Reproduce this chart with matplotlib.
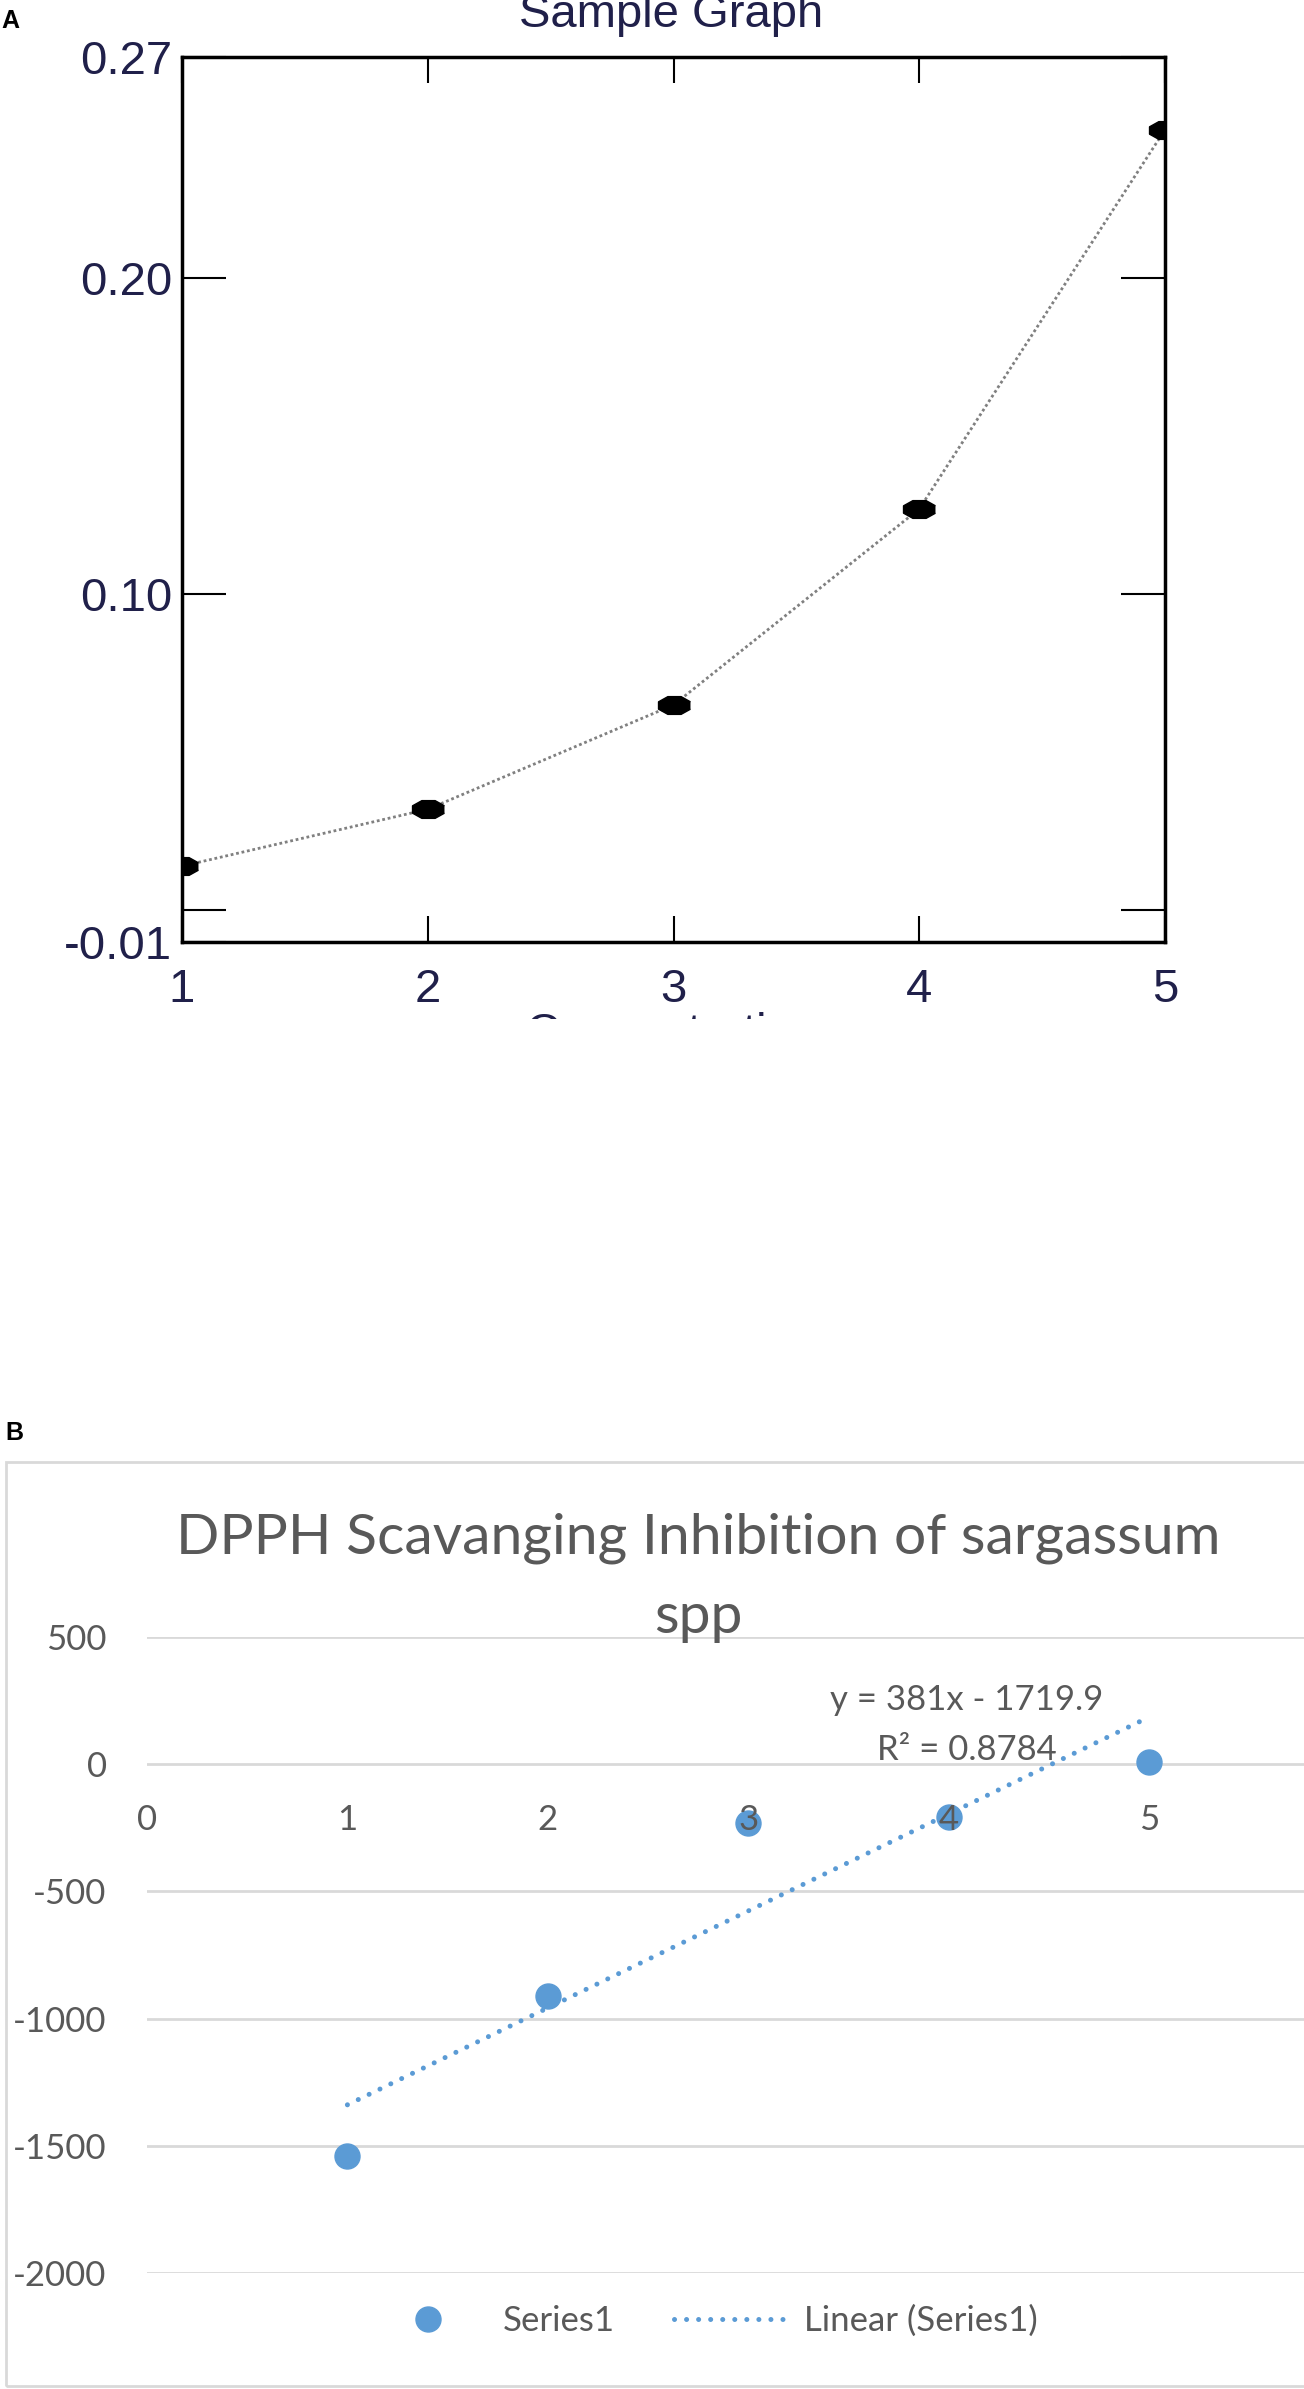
import matplotlib
matplotlib.use('Agg')
import matplotlib.pyplot as plt
import numpy as np
from matplotlib.lines import Line2D
from matplotlib.patches import Rectangle
from matplotlib.transforms import Bbox, TransformedBbox

plt.rcParams['axes.unicode_minus'] = False  # the source uses plain hyphens

# ---- panel A: sample graph ----
a_x = [1, 2, 3, 4, 5]
a_y = [0.014, 0.032, 0.065, 0.127, 0.247]
a_xticks = [1, 2, 3, 4, 5]
a_yticks = [-0.01, 0.0, 0.10, 0.20, 0.27]
a_ylabels = ['-0.01', '', '0.10', '0.20', '0.27']

# ---- panel B: DPPH scavenging ----
b_x = [1, 2, 3, 4, 5]
b_y = [-1541, -910, -230, -207, 10]
trend_slope = 381
trend_intercept = -1719.9
r2 = 0.8784
b_xticks = [0, 1, 2, 3, 4, 5]
b_yticks = [500, 0, -500, -1000, -1500, -2000]

W, H = 1304, 2389
fig = plt.figure(figsize=(W / 100, H / 100), dpi=100)

def fx(px):
    return px / W

def fy(py):
    return 1 - py / H

# ================= panel A =================
ink = '#20204a'
axA = fig.add_axes([fx(182), fy(942), (1165 - 182) / W, (942 - 57) / H])
ang = np.linspace(0, 2 * np.pi, 9)[:-1] + np.pi / 8
mk = list(zip(1.8 * np.cos(ang), np.sin(ang)))  # squashed blob, like the bitmap
axA.plot(a_x, a_y, color='#808080', lw=2, ls=(0, (1, 1)),
         marker=mk, ms=23, mfc='black', mec='black')
axA.set_xlim(1, 5)
axA.set_ylim(-0.01, 0.27)
axA.set_xticks(a_xticks)
axA.set_yticks(a_yticks)
axA.set_yticklabels(a_ylabels)
for s in axA.spines.values():
    s.set_linewidth(2.5)
axA.tick_params(direction='in', top=True, right=True, width=1.5, colors='black',
                labelcolor=ink, labelsize=34, labelfontfamily='Liberation Sans')
axA.tick_params(axis='x', length=19, pad=19)
axA.tick_params(axis='y', length=32, pad=7)

fig.text(fx(671), fy(27), 'Sample Graph', ha='center', va='baseline',
         fontsize=34, color=ink, family='Liberation Sans')
xl = fig.text(fx(673), fy(1012), 'Concentration', ha='center', va='top',
              fontsize=34, color=ink, family='Liberation Sans', clip_on=True)
xl.set_clip_box(TransformedBbox(Bbox([[0, fy(1019)], [1, 1]]), fig.transFigure))
fig.text(fx(1), fy(28), 'A', fontsize=18, fontweight='bold',
         family='Liberation Sans', va='baseline')

# ================= panel B =================
grey = '#595959'
blue = '#5b9bd5'
fig.add_artist(Rectangle((fx(6), fy(2386)), (1390 - 6) / W, (2386 - 1462) / H,
                         transform=fig.transFigure, fill=False,
                         ec='#d9d9d9', lw=2))
fig.text(fx(5), fy(1440), 'B', fontsize=18, fontweight='bold',
         family='Liberation Sans', va='baseline')

axB = fig.add_axes([fx(147), fy(2273), 6 * 200.4 / W, (2273 - 1637) / H])
axB.set_xlim(0, 6)
axB.set_ylim(-2000, 500)
axB.patch.set_alpha(0)
for v in b_yticks:
    axB.axhline(v, color='#d9d9d9', lw=2, zorder=0.5)

pts, = axB.plot(b_x, b_y, 'o', ms=18, color=blue, zorder=2, label='Series1')
xt = np.array([min(b_x), max(b_x)])
tr, = axB.plot(xt, trend_slope * xt + trend_intercept, color=blue, lw=3.6,
               ls=(0, (0.01, 2.4)), dash_capstyle='round', zorder=2,
               label='Linear (Series1)')

axB.text(4.09, 212, f'y = {trend_slope}x - {abs(trend_intercept)}',
         ha='center', va='baseline', fontsize=25, color=grey, family='Lato')
axB.text(4.09, 16, f'R² = {r2}', ha='center', va='baseline',
         fontsize=25, color=grey, family='Lato')

axB.set_axisbelow(False)
axB.spines['bottom'].set_position(('data', 0))
for s in axB.spines.values():
    s.set_color('none')
axB.set_xticks(b_xticks)
axB.set_yticks(b_yticks)
axB.tick_params(length=0, labelcolor=grey, labelsize=25, labelfontfamily='Lato')
axB.tick_params(axis='x', pad=29)
axB.tick_params(axis='y', pad=29)

# baseline alignment of a two-line text goes by its last line
fig.text(fx(698), fy(1633), 'DPPH Scavanging Inhibition of sargassum\nspp',
         ha='center', va='baseline', fontsize=41, color=grey, family='Lato',
         linespacing=1.68)

axB.legend(handles=[pts, tr], ncol=2, loc='center',
           bbox_to_anchor=(fx(705), fy(2321)), bbox_transform=fig.transFigure,
           frameon=False, prop={'family': 'Lato', 'size': 25}, labelcolor=grey,
           handlelength=3.2, handletextpad=0.55, columnspacing=1.7)

fig.savefig('out.png', dpi=100)
